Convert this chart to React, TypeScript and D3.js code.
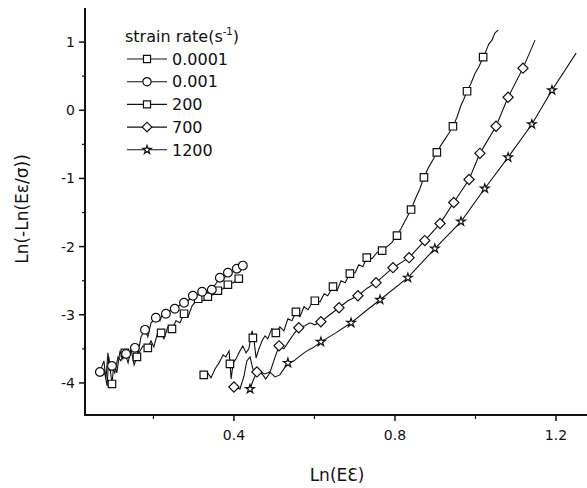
import React from "react";
import * as d3 from "d3";

const W = 587;
const H = 488;

const xDomain = [0.03, 1.277];
const yDomain = [-4.47, 1.5];
const xMajorTicks = [0.4, 0.8, 1.2];
const xMinorTicks = [0.2, 0.6, 1.0];
const yMajorTicks = [-4, -3, -2, -1, 0, 1];
const yMinorTicks = [-3.5, -2.5, -1.5, -0.5, 0.5];

const seriesLabels = ["0.0001", "0.001", "200", "700", "1200"];
const seriesSymbols = ["square", "circle", "square", "diamond", "star"];

// strain rate 0.0001 (squares)
const line0001 = [
  [0.077, -3.794], [0.085, -4.044], [0.089, -3.618], [0.097, -4.015], [0.102, -3.706], [0.109, -3.853],
  [0.117, -3.529], [0.124, -3.647], [0.129, -3.559], [0.137, -3.706], [0.144, -3.5], [0.152, -3.735],
  [0.159, -3.618], [0.167, -3.529], [0.174, -3.456], [0.186, -3.485], [0.194, -3.382], [0.201, -3.471],
  [0.209, -3.294], [0.219, -3.265], [0.226, -3.353], [0.236, -3.176], [0.246, -3.206], [0.256, -3.088],
  [0.266, -3.118], [0.276, -2.985], [0.286, -3.029], [0.296, -2.868], [0.311, -2.765], [0.323, -2.794],
  [0.335, -2.735], [0.348, -2.706], [0.36, -2.647], [0.373, -2.618], [0.385, -2.559], [0.398, -2.529],
  [0.412, -2.471],
];
const marks0001 = [
  [0.097, -4.015], [0.129, -3.559], [0.159, -3.618], [0.186, -3.485], [0.219, -3.265], [0.246, -3.206],
  [0.276, -2.985], [0.311, -2.765], [0.335, -2.735], [0.36, -2.647], [0.385, -2.559], [0.412, -2.471],
];

// strain rate 0.001 (circles)
const line001 = [
  [0.067, -3.838], [0.077, -3.676], [0.082, -3.941], [0.087, -3.559], [0.092, -3.824], [0.097, -3.75],
  [0.104, -3.853], [0.112, -3.618], [0.119, -3.676], [0.127, -3.529], [0.132, -3.574], [0.139, -3.618],
  [0.147, -3.456], [0.154, -3.485], [0.162, -3.559], [0.169, -3.324], [0.179, -3.221], [0.186, -3.324],
  [0.194, -3.118], [0.206, -3.044], [0.216, -3.088], [0.224, -2.971], [0.231, -2.985], [0.241, -2.941],
  [0.253, -2.912], [0.263, -2.868], [0.276, -2.824], [0.286, -2.794], [0.298, -2.721], [0.308, -2.706],
  [0.321, -2.662], [0.333, -2.676], [0.345, -2.632], [0.355, -2.544], [0.365, -2.456], [0.375, -2.471],
  [0.385, -2.382], [0.398, -2.368], [0.407, -2.324], [0.422, -2.279],
];
const marks001 = [
  [0.067, -3.838], [0.097, -3.75], [0.132, -3.574], [0.154, -3.485], [0.179, -3.221], [0.206, -3.044],
  [0.231, -2.985], [0.253, -2.912], [0.276, -2.824], [0.298, -2.721], [0.321, -2.662], [0.345, -2.632],
  [0.365, -2.456], [0.385, -2.382], [0.407, -2.324], [0.422, -2.279],
];

// strain rate 200 (squares)
const line200 = [
  [0.325, -3.882], [0.335, -3.853], [0.343, -3.926], [0.353, -3.794], [0.363, -3.706], [0.373, -3.588],
  [0.38, -3.618], [0.388, -3.529], [0.393, -3.941], [0.398, -3.706], [0.405, -3.647], [0.415, -3.529],
  [0.422, -3.456], [0.43, -3.559], [0.437, -3.5], [0.445, -3.235], [0.45, -3.382], [0.455, -3.632],
  [0.462, -3.5], [0.47, -3.382], [0.477, -3.309], [0.484, -3.353], [0.494, -3.206], [0.504, -3.265],
  [0.514, -3.176], [0.524, -3.235], [0.534, -3.059], [0.544, -3.088], [0.554, -2.956], [0.564, -3.029],
  [0.574, -2.882], [0.584, -2.926], [0.594, -2.824], [0.601, -2.794], [0.614, -2.809], [0.624, -2.691],
  [0.633, -2.721], [0.646, -2.588], [0.656, -2.647], [0.666, -2.5], [0.676, -2.529], [0.688, -2.397],
  [0.701, -2.382], [0.71, -2.265], [0.72, -2.294], [0.73, -2.162], [0.743, -2.176], [0.755, -2.088],
  [0.768, -2.059], [0.78, -2.0], [0.792, -1.941], [0.805, -1.838], [0.815, -1.735], [0.827, -1.603],
  [0.84, -1.456], [0.85, -1.309], [0.862, -1.147], [0.872, -0.985], [0.882, -0.853], [0.892, -0.75],
  [0.904, -0.618], [0.914, -0.515], [0.927, -0.397], [0.934, -0.338], [0.944, -0.235], [0.954, -0.103],
  [0.964, 0.074], [0.971, 0.162], [0.979, 0.279], [0.989, 0.397], [0.999, 0.544], [1.009, 0.647],
  [1.019, 0.779], [1.026, 0.868], [1.033, 0.971], [1.041, 1.029], [1.048, 1.132], [1.056, 1.176],
];
const marks200 = [
  [0.325, -3.882], [0.39, -3.721], [0.447, -3.338], [0.504, -3.265], [0.554, -2.956], [0.601, -2.794],
  [0.646, -2.588], [0.688, -2.397], [0.73, -2.162], [0.768, -2.059], [0.805, -1.838], [0.84, -1.456],
  [0.872, -0.985], [0.904, -0.618], [0.944, -0.235], [0.979, 0.279], [1.019, 0.779],
];

// strain rate 700 (diamonds)
const line700 = [
  [0.4, -4.059], [0.415, -4.088], [0.425, -3.897], [0.432, -3.676], [0.44, -3.618], [0.447, -3.794],
  [0.457, -3.838], [0.47, -3.868], [0.479, -3.941], [0.489, -3.853], [0.499, -3.676], [0.512, -3.456],
  [0.524, -3.5], [0.537, -3.382], [0.549, -3.279], [0.561, -3.191], [0.576, -3.162], [0.589, -3.118],
  [0.601, -3.147], [0.616, -3.103], [0.638, -3.0], [0.661, -2.897], [0.683, -2.794], [0.708, -2.721],
  [0.731, -2.61], [0.753, -2.529], [0.795, -2.309], [0.835, -2.162], [0.874, -1.912], [0.912, -1.662],
  [0.946, -1.353], [0.984, -1.015], [1.011, -0.632], [1.051, -0.235], [1.081, 0.191], [1.118, 0.618],
  [1.148, 1.029],
];
const marks700 = [
  [0.4, -4.059], [0.457, -3.838], [0.512, -3.456], [0.561, -3.191], [0.616, -3.103], [0.661, -2.897],
  [0.708, -2.721], [0.753, -2.529], [0.795, -2.309], [0.835, -2.162], [0.874, -1.912], [0.912, -1.662],
  [0.946, -1.353], [0.984, -1.015], [1.011, -0.632], [1.051, -0.235], [1.081, 0.191], [1.118, 0.618],
];

// strain rate 1200 (stars)
const line1200 = [
  [0.44, -4.088], [0.447, -3.971], [0.455, -3.868], [0.465, -3.838], [0.477, -3.868], [0.489, -3.838],
  [0.502, -3.912], [0.514, -3.882], [0.524, -3.794], [0.534, -3.706], [0.549, -3.676], [0.564, -3.603],
  [0.581, -3.529], [0.596, -3.485], [0.616, -3.397], [0.653, -3.265], [0.691, -3.118], [0.725, -2.956],
  [0.763, -2.779], [0.832, -2.456], [0.899, -2.029], [0.964, -1.632], [1.023, -1.147], [1.081, -0.691],
  [1.14, -0.206], [1.19, 0.294], [1.25, 0.838],
];
const marks1200 = [
  [0.44, -4.088], [0.534, -3.706], [0.616, -3.397], [0.691, -3.118], [0.763, -2.779], [0.832, -2.456],
  [0.899, -2.029], [0.964, -1.632], [1.023, -1.147], [1.081, -0.691], [1.14, -0.206], [1.19, 0.294],
];

const seriesLines = [line0001, line001, line200, line700, line1200];
const seriesMarks = [marks0001, marks001, marks200, marks700, marks1200];

const FONT = "'DejaVu Sans', 'Liberation Sans', Arial, sans-serif";

function symbolPath(kind: string, scale = 1) {
  if (kind === "square") return d3.symbol().type(d3.symbolSquare).size(56 * scale)();
  if (kind === "circle") return d3.symbol().type(d3.symbolCircle).size(60 * scale)();
  if (kind === "diamond") return d3.symbol().type(d3.symbolSquare).size(52 * scale)();
  return d3.symbol().type(d3.symbolStar).size(24 * scale)();
}

export default function App() {
  const x = d3.scaleLinear().domain(xDomain).range([85, 587]);
  const y = d3.scaleLinear().domain(yDomain).range([415, 8]);
  const line = d3
    .line<number[]>()
    .x((d) => x(d[0]))
    .y((d) => y(d[1]));

  const x0 = x(xDomain[0]);
  const y0 = y(yDomain[0]);

  return (
    <svg
      width={W}
      height={H}
      style={{ position: "fixed", left: 0, top: 0, background: "#fff" }}
      fontFamily={FONT}
    >
      <rect x={0} y={0} width={W} height={H} fill="#fff" />
      {seriesLines.map((pts, i) => (
        <path key={"l" + i} d={line(pts) || ""} fill="none" stroke="#111" strokeWidth={1.1} />
      ))}
      {seriesMarks.map((pts, i) =>
        pts.map((p, j) => (
          <path
            key={"m" + i + "-" + j}
            d={symbolPath(seriesSymbols[i]) || ""}
            transform={`translate(${x(p[0])},${y(p[1])})${seriesSymbols[i] === "diamond" ? " rotate(45)" : ""}`}
            fill="#fff"
            stroke="#111"
            strokeWidth={1.2}
          />
        ))
      )}
      <line x1={x0} x2={x0} y1={y(yDomain[1])} y2={y0 + 1} stroke="#111" strokeWidth={2} />
      <line x1={x0 - 1} x2={x(xDomain[1])} y1={y0} y2={y0} stroke="#111" strokeWidth={2} />
      {yMajorTicks.map((t) => (
        <g key={"yt" + t}>
          <line x1={x0 - 6} x2={x0} y1={y(t)} y2={y(t)} stroke="#111" strokeWidth={1.5} />
          <text x={x0 - 10} y={y(t)} dy="0.36em" textAnchor="end" fontSize={14} fill="#111">
            {t}
          </text>
        </g>
      ))}
      {yMinorTicks.map((t) => (
        <line key={"ym" + t} x1={x0 - 3} x2={x0} y1={y(t)} y2={y(t)} stroke="#111" strokeWidth={1.2} />
      ))}
      {xMajorTicks.map((t) => (
        <g key={"xt" + t}>
          <line x1={x(t)} x2={x(t)} y1={y0} y2={y0 + 6} stroke="#111" strokeWidth={1.5} />
          <text x={x(t)} y={y0 + 25} textAnchor="middle" fontSize={14} fill="#111">
            {d3.format(".1f")(t)}
          </text>
        </g>
      ))}
      {xMinorTicks.map((t) => (
        <line key={"xm" + t} x1={x(t)} x2={x(t)} y1={y0} y2={y0 + 4} stroke="#111" strokeWidth={1.2} />
      ))}
      <text x={337} y={481} textAnchor="middle" fontSize={17} fill="#111">
        Ln(EƐ)
      </text>
      <text transform={`translate(28,209) rotate(-90)`} textAnchor="middle" fontSize={17} fill="#111">
        Ln(-Ln(Eε/σ))
      </text>
      <text x={125} y={42} fontSize={16} fill="#111">
        strain rate(s
        <tspan fontSize={10} dy={-7}>-1</tspan>
        <tspan dy={7}>)</tspan>
      </text>
      {seriesLabels.map((lab, i) => {
        const cy = 59 + i * 22.7;
        return (
          <g key={"lg" + i}>
            <line x1={127} x2={167} y1={cy} y2={cy} stroke="#111" strokeWidth={1.1} />
            <path
              d={symbolPath(seriesSymbols[i], 0.9) || ""}
              transform={`translate(147,${cy})${seriesSymbols[i] === "diamond" ? " rotate(45)" : ""}`}
              fill="#fff"
              stroke="#111"
              strokeWidth={1.2}
            />
            <text x={172} y={cy} dy="0.36em" fontSize={16} fill="#111">
              {lab}
            </text>
          </g>
        );
      })}
    </svg>
  );
}
